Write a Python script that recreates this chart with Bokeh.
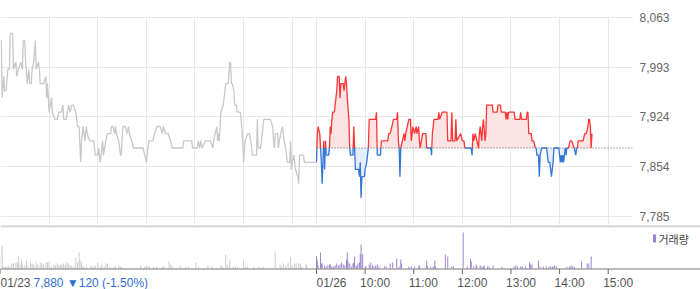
import numpy as np
from bokeh.plotting import figure
from bokeh.layouts import column
from bokeh.models import Range1d, FixedTicker, NumeralTickFormatter, Span
from bokeh.core.properties import value
from bokeh.embed import file_html
from bokeh.resources import INLINE

# ---------------- data ----------------
SESSION = 390                      # minutes 09:00-15:30
day_labels = ["01/23", "01/26"]
hour_labels = ["10:00", "11:00", "12:00", "13:00", "14:00", "15:00"]
y_tick_labels = [7785, 7854, 7924, 7993, 8063]
base_price = 7880
info_text = "7,880 \u25bc120 (-1.50%)"
legend_label = "거래량"

# previous day (01/23): minutes after 09:00 and price
d1_min = [0, 1, 2, 4, 5, 7, 9, 11, 12, 15, 16, 19, 20, 22, 25, 27, 28, 30, 31, 33,
          35, 36, 38, 39, 41, 43, 44, 47, 48, 49, 53, 56, 57, 58, 59, 60, 63, 64, 67, 70,
          72, 75, 77, 78, 81, 84, 86, 88, 90, 93, 95, 97, 99, 100, 102, 104, 106, 107, 110, 115,
          117, 120, 121, 123, 126, 127, 130, 132, 136, 137, 139, 141, 142, 143, 146, 148, 149, 151, 154, 156,
          158, 159, 162, 164, 176, 178, 180, 183, 188, 190, 193, 197, 200, 201, 204, 207, 210, 212, 225, 226,
          236, 237, 243, 244, 246, 247, 249, 253, 259, 262, 263, 265, 267, 268, 269, 270, 272, 275, 278, 281,
          283, 284, 285, 286, 288, 289, 291, 292, 296, 297, 299, 300, 302, 305, 307, 309, 311, 316, 317, 318,
          321, 325, 333, 336, 337, 338, 339, 342, 343, 344, 346, 348, 349, 350, 352, 353, 354, 357, 358, 359,
          360, 362, 363, 364, 367, 368, 369, 374, 375, 389]
d1_px = [8030, 8030, 7950, 7980, 7960, 7960, 7990, 7990, 8040, 8040, 7990, 8000, 7980, 7990, 8000, 7990, 8030, 8030, 8000, 7970,
         7990, 7970, 7970, 7990, 8000, 8030, 7990, 8000, 7990, 7970, 7970, 7980, 7950, 7970, 7950, 7930, 7950, 7930, 7920, 7920,
         7930, 7930, 7940, 7920, 7920, 7940, 7930, 7940, 7940, 7930, 7910, 7910, 7860, 7890, 7910, 7890, 7910, 7900, 7890, 7890,
         7870, 7870, 7880, 7860, 7890, 7870, 7890, 7900, 7900, 7910, 7910, 7900, 7910, 7900, 7890, 7870, 7870, 7910, 7910, 7900,
         7910, 7900, 7890, 7880, 7880, 7870, 7860, 7890, 7890, 7900, 7910, 7910, 7900, 7910, 7900, 7900, 7890, 7880, 7880, 7890,
         7890, 7880, 7880, 7890, 7880, 7890, 7880, 7890, 7890, 7880, 7890, 7900, 7910, 7890, 7900, 7890, 7930, 7940, 7970, 7970,
         8000, 8000, 7970, 7970, 7960, 7940, 7940, 7930, 7930, 7920, 7890, 7860, 7890, 7900, 7900, 7890, 7870, 7870, 7920, 7880,
         7880, 7920, 7920, 7910, 7890, 7880, 7900, 7900, 7880, 7890, 7900, 7910, 7900, 7890, 7880, 7870, 7860, 7860, 7890, 7850,
         7860, 7870, 7860, 7850, 7840, 7830, 7870, 7870, 7860, 7860]

# current day (01/26)
d2_min = [0, 1, 2, 4, 5, 6, 7, 8, 9, 10, 11, 12, 15, 16, 17, 18, 19, 20, 22, 23,
          25, 26, 28, 29, 30, 33, 34, 35, 36, 37, 38, 40, 41, 42, 45, 46, 47, 48, 52, 53,
          54, 55, 56, 59, 60, 62, 63, 64, 65, 73, 74, 75, 79, 80, 88, 89, 91, 93, 95, 99,
          100, 101, 102, 103, 104, 106, 108, 109, 110, 112, 114, 116, 117, 119, 121, 123, 124, 126, 127, 128,
          131, 135, 136, 141, 142, 143, 145, 150, 151, 152, 155, 161, 162, 166, 167, 168, 171, 172, 173, 178,
          180, 182, 183, 191, 192, 193, 194, 196, 198, 200, 201, 202, 204, 205, 206, 208, 209, 210, 217, 218,
          223, 224, 227, 228, 233, 234, 235, 236, 237, 244, 245, 251, 252, 253, 259, 260, 261, 262, 265, 266,
          268, 270, 271, 272, 274, 275, 276, 278, 284, 285, 286, 288, 289, 290, 291, 292, 293, 299, 300, 301,
          302, 303, 304, 305, 306, 307, 308, 309, 311, 313, 315, 318, 320, 321, 322, 323, 329, 331, 333, 335,
          336, 337, 338, 339, 340]
d2_px = [7860, 7900, 7910, 7900, 7880, 7860, 7830, 7860, 7890, 7850, 7890, 7870, 7870, 7880, 7910, 7900, 7920, 7930, 7930, 7940,
         7960, 7980, 7980, 7950, 7970, 7970, 7960, 7970, 7980, 7970, 7950, 7920, 7880, 7870, 7870, 7910, 7880, 7850, 7850, 7840,
         7860, 7810, 7840, 7840, 7850, 7860, 7870, 7880, 7920, 7920, 7930, 7870, 7870, 7890, 7890, 7900, 7900, 7910, 7920, 7920,
         7930, 7890, 7880, 7840, 7880, 7890, 7900, 7890, 7900, 7910, 7920, 7920, 7890, 7910, 7900, 7910, 7900, 7910, 7890, 7880,
         7900, 7900, 7880, 7880, 7870, 7900, 7920, 7920, 7930, 7920, 7930, 7930, 7890, 7890, 7930, 7890, 7890, 7920, 7890, 7900,
         7890, 7890, 7880, 7880, 7870, 7900, 7890, 7900, 7890, 7880, 7900, 7910, 7890, 7910, 7920, 7890, 7900, 7940, 7940, 7930,
         7930, 7940, 7940, 7930, 7930, 7920, 7930, 7920, 7930, 7930, 7920, 7920, 7930, 7920, 7920, 7930, 7930, 7900, 7900, 7890,
         7890, 7880, 7880, 7870, 7870, 7840, 7870, 7880, 7880, 7870, 7860, 7860, 7850, 7840, 7850, 7860, 7880, 7880, 7870, 7860,
         7870, 7860, 7870, 7860, 7870, 7880, 7870, 7880, 7880, 7890, 7890, 7880, 7870, 7880, 7880, 7890, 7890, 7900, 7900, 7910,
         7920, 7920, 7910, 7880, 7900]

# volume (relative units)
v1_min = [0, 2, 4, 6, 8, 10, 12, 14, 16, 19, 21, 22, 24, 26, 27, 30, 32, 34, 37, 39,
          41, 44, 46, 49, 51, 53, 56, 58, 60, 63, 66, 68, 70, 72, 74, 76, 78, 80, 82, 84,
          86, 88, 91, 93, 95, 97, 98, 100, 101, 103, 106, 111, 113, 115, 117, 120, 123, 125, 128, 130,
          132, 135, 140, 142, 146, 148, 150, 173, 178, 180, 182, 184, 189, 193, 200, 202, 208, 210, 212, 222,
          229, 232, 241, 244, 256, 261, 272, 274, 278, 280, 283, 287, 290, 293, 300, 302, 305, 313, 319, 324,
          339, 345, 347, 349, 352, 355, 358, 360, 363, 365, 368, 370, 372, 377, 378]
v1_vol = [13, 23, 2, 2, 2, 2, 2, 5, 5, 6, 6, 12, 4, 9, 3, 3, 8, 3, 6, 5,
          4, 6, 4, 6, 5, 4, 6, 6, 7, 2, 4, 3, 5, 3, 4, 4, 5, 4, 6, 5,
          3, 3, 2, 11, 6, 16, 9, 6, 2, 2, 2, 2, 2, 2, 3, 6, 2, 4, 2, 5,
          5, 2, 2, 2, 3, 2, 1, 3, 2, 3, 2, 2, 2, 2, 2, 2, 7, 4, 2, 3,
          2, 2, 6, 2, 3, 2, 3, 2, 14, 3, 8, 2, 2, 2, 9, 2, 2, 2, 2, 2,
          16, 4, 2, 5, 3, 6, 11, 3, 5, 5, 5, 5, 2, 5, 3]
v2_min = [0, 1, 2, 5, 6, 7, 10, 12, 14, 16, 17, 19, 21, 23, 25, 27, 29, 31, 33, 35,
          37, 38, 39, 41, 43, 45, 46, 47, 49, 50, 51, 53, 54, 55, 57, 60, 61, 65, 67, 69,
          71, 73, 75, 77, 84, 86, 91, 94, 99, 102, 104, 105, 114, 117, 121, 126, 127, 136, 137, 141,
          144, 146, 147, 159, 162, 167, 169, 181, 186, 190, 191, 194, 197, 198, 202, 204, 206, 207, 211, 213,
          218, 229, 244, 246, 248, 252, 254, 258, 263, 264, 266, 274, 276, 280, 284, 287, 289, 291, 293, 294,
          296, 309, 312, 314, 316, 318, 327, 334, 336, 339]
v2_vol = [12, 8, 3, 16, 5, 5, 3, 2, 3, 4, 4, 2, 2, 3, 5, 3, 4, 6, 4, 3,
          9, 16, 7, 5, 2, 5, 6, 12, 3, 2, 5, 6, 15, 24, 14, 2, 2, 4, 6, 3,
          2, 3, 4, 2, 2, 2, 5, 6, 10, 2, 9, 5, 2, 2, 2, 2, 3, 8, 2, 2,
          2, 8, 2, 14, 12, 2, 2, 36, 2, 10, 7, 2, 4, 2, 3, 2, 2, 3, 2, 2,
          3, 2, 2, 3, 2, 2, 2, 2, 6, 4, 4, 8, 2, 2, 2, 2, 2, 2, 2, 3,
          2, 2, 2, 3, 2, 2, 7, 5, 5, 12]

# ---------------- colours / layout ----------------
RED, RED_FILL = "#ff3535", "#fde4e4"
BLUE, BLUE_FILL = "#3276d8", "#e4edf9"
GREY_LINE = "#c6c8cc"
VOL_GREY, VOL_PURPLE = "#c8c9cd", "#9a82cc"
GRID = "#e8e8e8"
FONT = "Liberation Sans"

TOTAL_MIN = 2 * SESSION
FRAME_W, FRAME_H, TOP = 632, 209, 16
px_per_min = FRAME_W / TOTAL_MIN

sc = (y_tick_labels[-1] - y_tick_labels[0]) / 199.0
y_end = y_tick_labels[-1] + 0.5 * sc
y_start = y_end - FRAME_H * sc

p = figure(frame_width=FRAME_W, frame_height=FRAME_H, output_backend="svg", toolbar_location=None,
           x_range=Range1d(0, TOTAL_MIN), y_range=Range1d(y_start, y_end),
           x_axis_location=None, y_axis_location="right",
           min_border_left=0, min_border_right=700 - FRAME_W, min_border_top=TOP, min_border_bottom=0,
           outline_line_color=None, background_fill_color="white", border_fill_color="white")

grid_minutes = [h * 60 for h in range(1, 7)] + [SESSION] + [SESSION + h * 60 for h in range(1, 7)]
p.xgrid.ticker = FixedTicker(ticks=grid_minutes)
p.xgrid.grid_line_color = GRID
p.ygrid.grid_line_color = GRID
yax = p.yaxis[0]
yax.ticker = FixedTicker(ticks=y_tick_labels)
p.ygrid.ticker = FixedTicker(ticks=y_tick_labels)
yax.formatter = NumeralTickFormatter(format="0,0")
yax.axis_line_color = None
yax.major_tick_line_color = None
yax.minor_tick_line_color = None
yax.major_tick_out = 0
yax.major_tick_in = 0
yax.major_label_standoff = 7
yax.major_label_text_font = FONT
yax.major_label_text_font_size = "12px"
yax.major_label_text_color = "#666666"

# previous day grey line
p.line(d1_min, d1_px, line_color=GREY_LINE, line_width=1.3)

# current day: split at baseline crossings
xs = [SESSION + m for m in d2_min]
ys = list(d2_px)
X, Y = [xs[0]], [ys[0]]
for i in range(1, len(xs)):
    x0, y0, x1, y1 = xs[i - 1], ys[i - 1], xs[i], ys[i]
    if (y0 - base_price) * (y1 - base_price) < 0:
        X.append(x0 + (base_price - y0) * (x1 - x0) / (y1 - y0))
        Y.append(base_price)
    X.append(x1)
    Y.append(y1)
X, Y = np.array(X, float), np.array(Y, float)

p.varea(x=X, y1=base_price, y2=np.maximum(Y, base_price), fill_color=RED_FILL)
p.varea(x=X, y1=base_price, y2=np.minimum(Y, base_price), fill_color=BLUE_FILL)
p.line([SESSION, TOTAL_MIN], [base_price, base_price], line_color="#555555", line_width=1, line_dash="1 2")

runs = {"r": ([], []), "b": ([], [])}
cur_c, cx, cy = None, [], []
for i in range(len(X) - 1):
    c = "r" if (Y[i] + Y[i + 1]) / 2 > base_price else "b"
    if c != cur_c:
        if cur_c is not None:
            runs[cur_c][0].append(cx)
            runs[cur_c][1].append(cy)
        cur_c, cx, cy = c, [X[i]], [Y[i]]
    cx.append(X[i + 1])
    cy.append(Y[i + 1])
runs[cur_c][0].append(cx)
runs[cur_c][1].append(cy)
p.multi_line(runs["b"][0], runs["b"][1], line_color=BLUE, line_width=1.3)
p.multi_line(runs["r"][0], runs["r"][1], line_color=RED, line_width=1.3)

# ---------------- volume panel ----------------
VOL_H = 64
vol_end = TOTAL_MIN * 700 / FRAME_W
v = figure(frame_width=700, frame_height=VOL_H, output_backend="svg", toolbar_location=None,
           x_range=Range1d(0, vol_end), y_range=Range1d(-21, 43),
           x_axis_location=None, y_axis_location=None,
           min_border_left=0, min_border_right=0, min_border_top=0, min_border_bottom=0,
           outline_line_color=None, background_fill_color="white", border_fill_color="white")
v.xgrid.grid_line_color = None
v.ygrid.grid_line_color = None

v.vbar(x=v1_min, top=v1_vol, bottom=0, width=1.2, fill_color=VOL_GREY, line_color=None)
v.vbar(x=[SESSION + m for m in v2_min], top=v2_vol, bottom=0, width=1.2, fill_color=VOL_PURPLE, line_color=None)

v.add_layout(Span(location=42.5, dimension="width", line_color="#8e8e8e", line_width=1))
v.add_layout(Span(location=41.5, dimension="width", line_color="#e4e4e4", line_width=1))
v.add_layout(Span(location=-0.5, dimension="width", line_color="#777777", line_width=1))

date_ticks = [d * SESSION for d in range(len(day_labels))]
hour_ticks = [SESSION + (i + 1) * 60 for i in range(len(hour_labels))]
all_ticks = date_ticks + hour_ticks
v.segment(x0=all_ticks, y0=-0.5, x1=all_ticks, y1=-5.5, line_color="#666666", line_width=1)

LBL_Y = -14.0
v.text(x=date_ticks, y=LBL_Y, text=day_labels, text_align="left", text_baseline="middle",
       text_font=value(FONT), text_font_size="12px", text_color="#555555")
v.text(x=hour_ticks, y=LBL_Y, text=hour_labels, text_align="left", text_baseline="middle", x_offset=-5,
       text_font=value(FONT), text_font_size="12px", text_color="#555555")
v.text(x=[0], y=[LBL_Y], text=[info_text], text_align="left", text_baseline="middle", x_offset=33,
       text_font=value(FONT), text_font_size="12px", text_color="#2f6fd4")

# legend key
v.quad(left=[652.5 / px_per_min], right=[655.5 / px_per_min], bottom=[26], top=[34],
       fill_color=VOL_PURPLE, line_color=None)
v.text(x=[658 / px_per_min], y=[29.5], text=[legend_label], text_align="left", text_baseline="middle",
       text_font=value("Noto Sans CJK KR"), text_font_size="11px", text_color="#444444")

layout = column(p, v, spacing=0)
open("out.html", "w").write(file_html(layout, INLINE))
